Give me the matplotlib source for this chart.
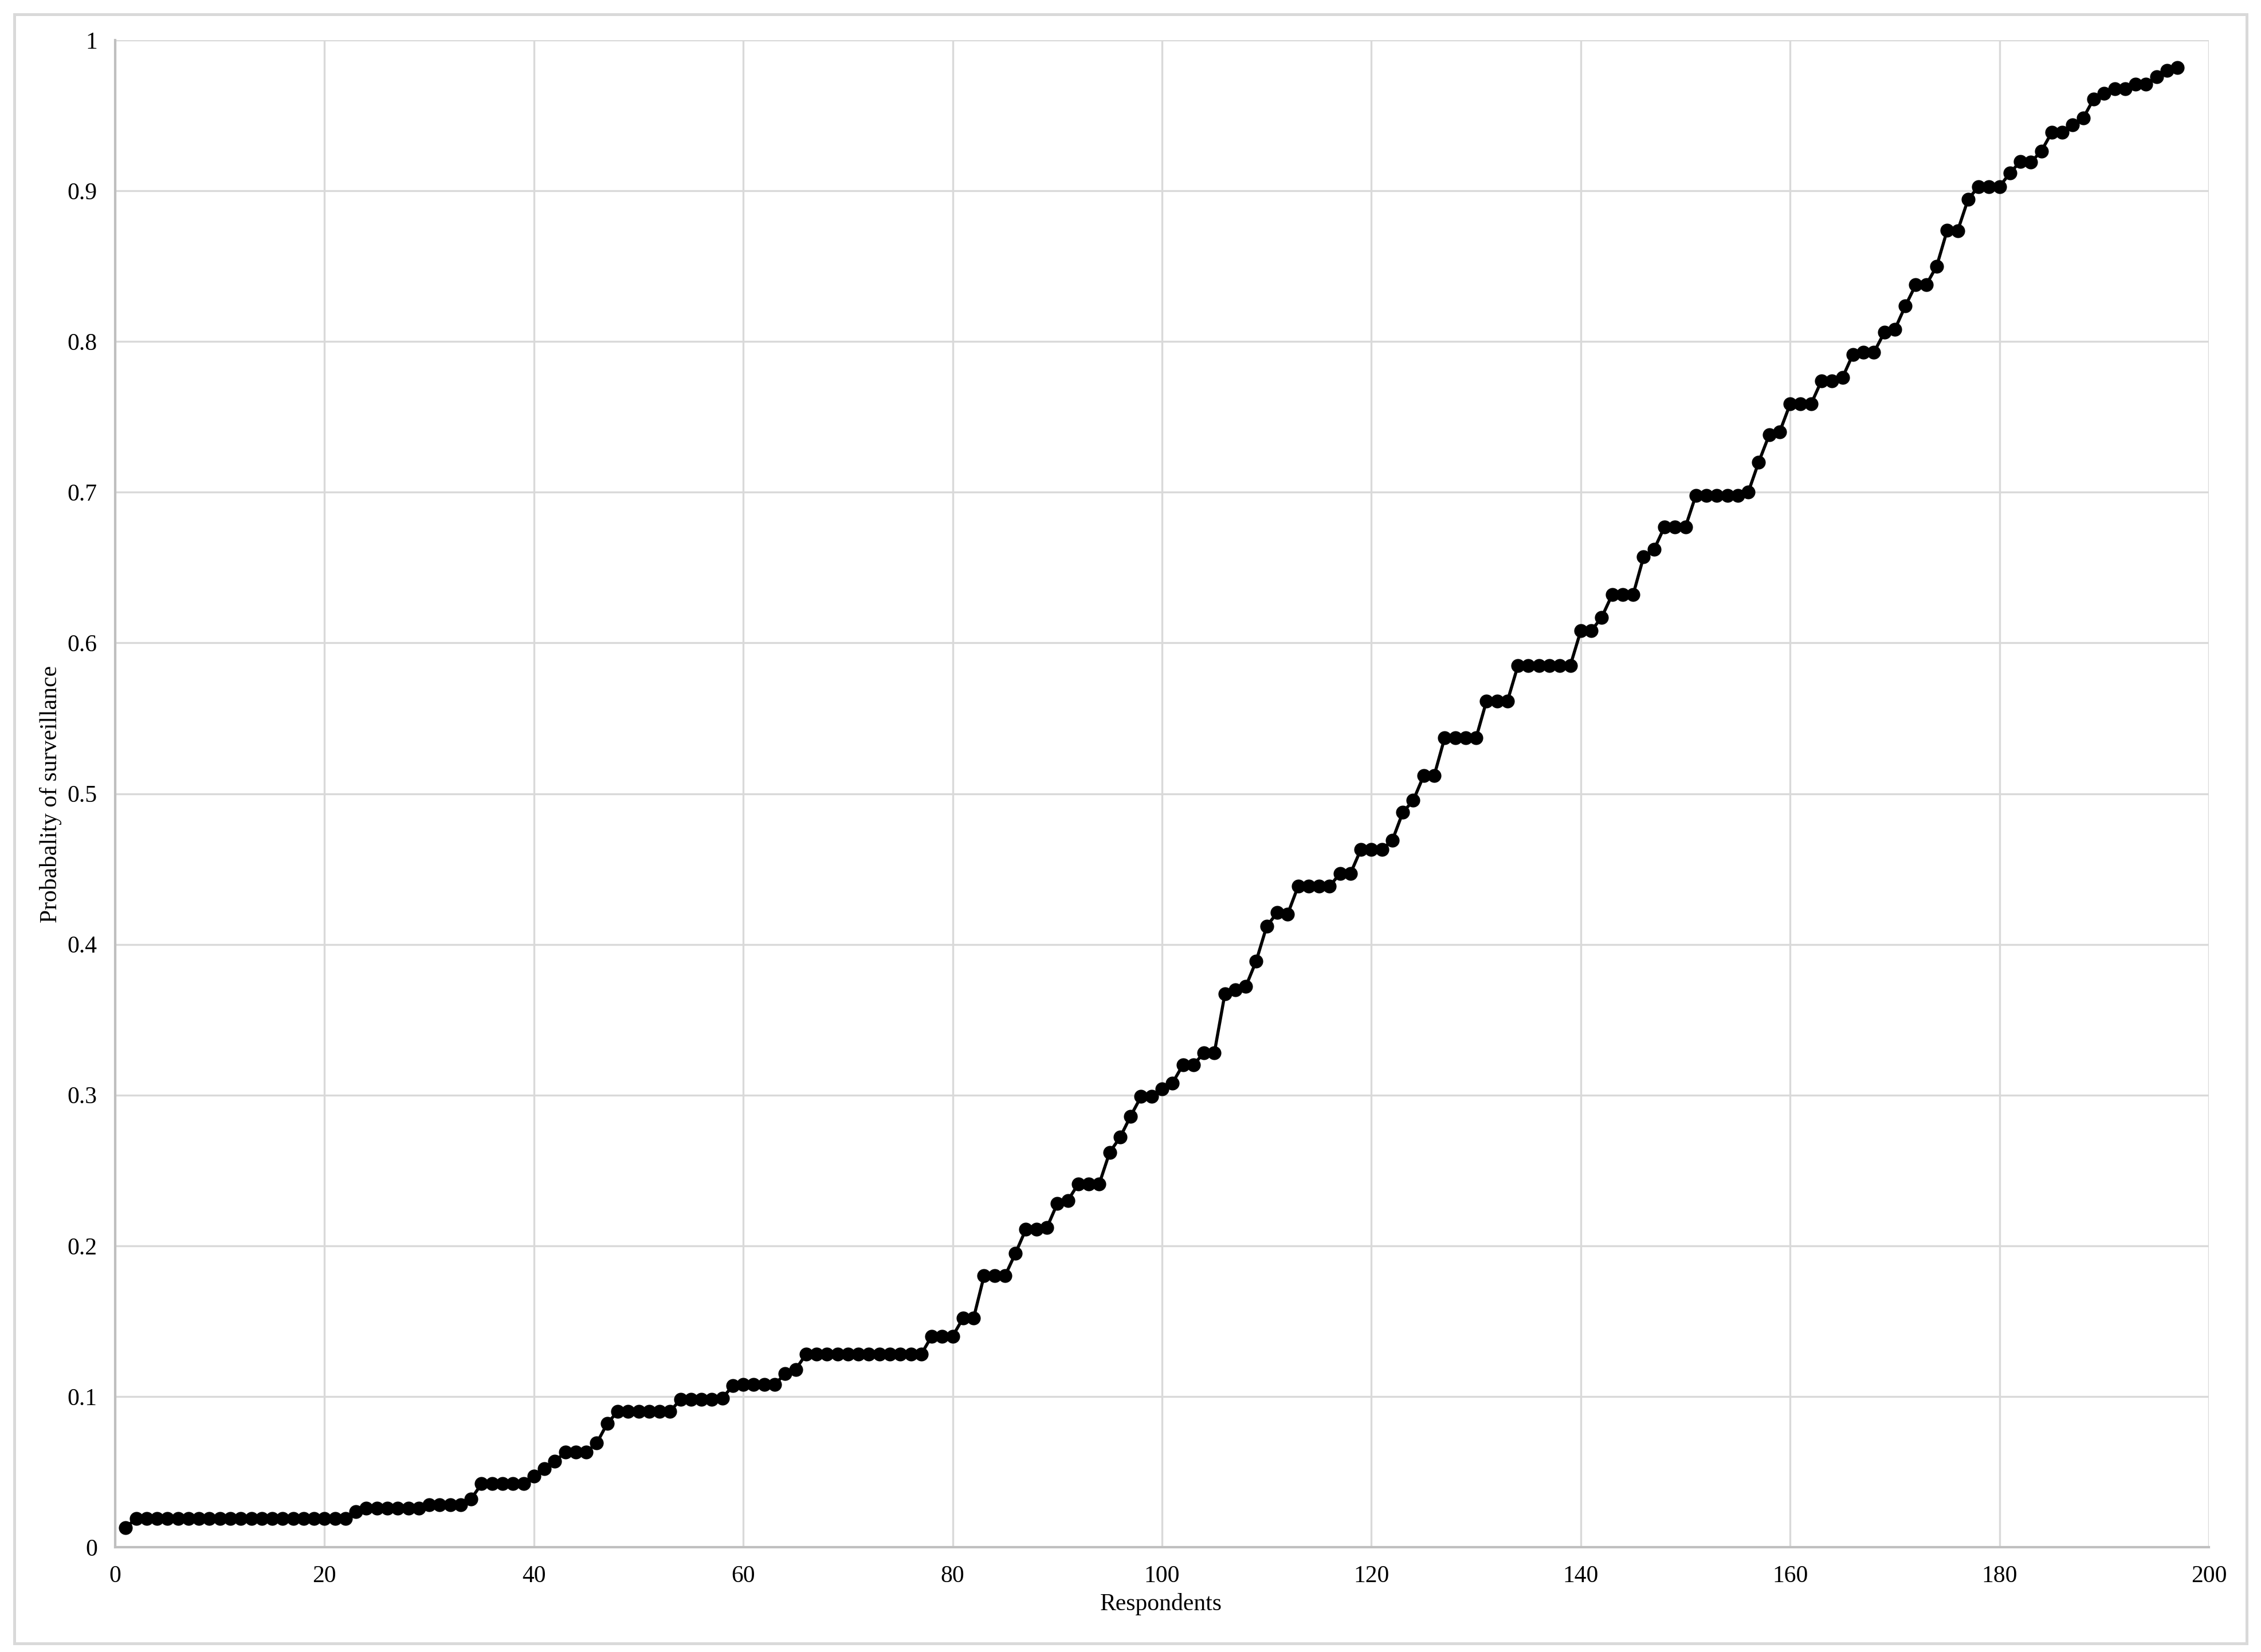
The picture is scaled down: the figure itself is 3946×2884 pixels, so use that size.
import matplotlib
matplotlib.use("Agg")
import matplotlib.pyplot as plt
from matplotlib.patches import Rectangle

plt.rcParams['font.family'] = ['Liberation Serif', 'DejaVu Serif']

respondents = list(range(1, 198))
probability = (
    [0.013] + [0.019] * 21 + [0.0235] + [0.026] * 6 + [0.028] * 4 + [0.032] + [0.042] * 5 +
    [0.047, 0.052, 0.057, 0.063, 0.063, 0.063, 0.069, 0.082] + [0.090] * 6 +
    [0.098, 0.098, 0.098, 0.098, 0.099] + [0.107, 0.108, 0.108, 0.108, 0.108] +
    [0.115, 0.118] + [0.128] * 12 + [0.140] * 3 + [0.152, 0.152] + [0.180] * 3 +
    [0.195, 0.211, 0.211, 0.212, 0.228, 0.230, 0.241, 0.241, 0.241, 0.262, 0.272, 0.286,
     0.299, 0.299, 0.304, 0.308, 0.320, 0.320, 0.328, 0.328, 0.367, 0.370, 0.372, 0.389,
     0.412, 0.421, 0.420] + [0.4385] * 4 + [0.447, 0.447] + [0.463] * 3 +
    [0.469, 0.4875, 0.4955, 0.512, 0.512] + [0.537] * 4 + [0.5615] * 3 + [0.585] * 6 +
    [0.608, 0.608, 0.617, 0.632, 0.632, 0.632, 0.657, 0.662, 0.677, 0.677, 0.677] +
    [0.698] * 5 + [0.700, 0.720, 0.738, 0.740, 0.7585, 0.7585, 0.7585, 0.774, 0.774, 0.776,
                   0.7915, 0.7927, 0.7927, 0.806, 0.808, 0.8235, 0.8376, 0.8376, 0.850,
                   0.8737, 0.8734, 0.8943, 0.9028, 0.9028, 0.9028, 0.9118, 0.9195, 0.919,
                   0.9264, 0.9388, 0.9388, 0.9438, 0.9483, 0.961, 0.9647, 0.9677, 0.9677,
                   0.9707, 0.9707, 0.9757, 0.9797, 0.9816]
)

x_ticks = [0, 20, 40, 60, 80, 100, 120, 140, 160, 180, 200]
y_ticks = [0, 0.1, 0.2, 0.3, 0.4, 0.5, 0.6, 0.7, 0.8, 0.9, 1]
y_tick_labels = ["0", "0.1", "0.2", "0.3", "0.4", "0.5", "0.6", "0.7", "0.8", "0.9", "1"]
x_label = "Respondents"
y_label = "Probabality of surveillance"

W, H = 3946, 2884
fig = plt.figure(figsize=(W / 300, H / 300), dpi=300)
ax = fig.add_axes([201 / W, 1 - 2701 / H, 3654 / W, 2631 / H])

grid_color = "#d9d9d9"
ax.plot(respondents, probability, color="black", linewidth=1.3, marker="o",
        markersize=4.8, markerfacecolor="black", markeredgecolor="black", zorder=3,
        clip_on=False)

ax.set_xlim(0, 200)
ax.set_ylim(0, 1)
ax.set_xticks(x_ticks)
ax.set_yticks(y_ticks)
ax.set_yticklabels(y_tick_labels)
ax.grid(True, color=grid_color, linewidth=0.8, zorder=0)
ax.set_axisbelow(True)
for side in ["top", "right"]:
    ax.spines[side].set_visible(False)
for side in ["left", "bottom"]:
    ax.spines[side].set_color("#bfbfbf")
    ax.spines[side].set_linewidth(1.0)
ax.tick_params(axis="both", length=0, labelsize=10, colors="black", pad=7.5)

fig.text(2026 / W, 1 - 2800 / H, x_label, fontsize=10, ha="center", va="center")
fig.text(88 / W, 1 - 1386 / H, y_label, fontsize=10, ha="center", va="center",
         rotation=90)

fig.patches.append(Rectangle((25 / W, 15 / H), 3896 / W, 2844 / H,
                             transform=fig.transFigure, fill=False,
                             edgecolor="#d9d9d9", linewidth=1.2))

fig.savefig("out.png", dpi=300, facecolor="white")
